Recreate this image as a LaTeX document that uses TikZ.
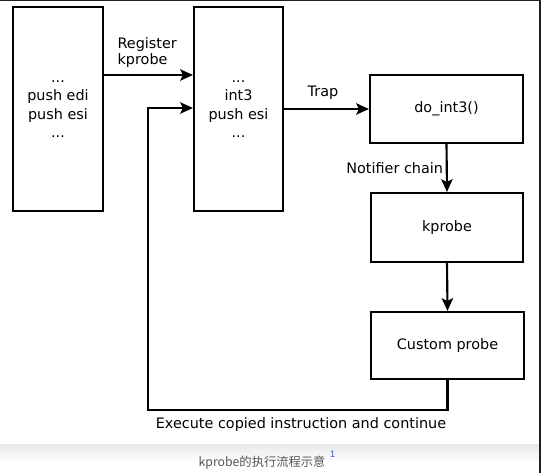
\documentclass[tikz,border=0pt]{standalone}
\usepackage{fontspec}
\setmainfont{DejaVu Sans}
\newfontfamily\cjk{Noto Sans CJK SC}
\usetikzlibrary{arrows.meta}
\definecolor{captiongray}{HTML}{555555}
\definecolor{notelink}{HTML}{3366CC}
\tikzset{
  codebox/.style={draw,line width=1.6pt,align=center,font=\fontsize{10.8pt}{13.8pt}\selectfont},
  flow/.style={line width=1.6pt,-{Stealth[length=9.5pt,width=8.5pt,inset=2pt]}},
  lbl/.style={font=\fontsize{10.8pt}{12pt}\selectfont,align=left,inner sep=1pt}
}
\begin{document}
\begin{tikzpicture}[x=0.75pt,y=-0.75pt]
    \useasboundingbox (0,0) rectangle (541,473);
    \fill[white] (0,0) rectangle (541,473);
    \shade[top color=black!9,bottom color=white] (0,444) rectangle (541,462);
    \fill[black!88] (0,0) rectangle (539,1.2);
    \fill[black!88] (538.8,0) rectangle (541,473);
    % code boxes
    \node[codebox,minimum width=67.5pt,minimum height=153pt] (orig) at (58,109) {...\\push edi\\push esi\\...};
    \node[codebox,minimum width=66.75pt,minimum height=153pt] (patched) at (238.5,109) {...\\int3\\push esi\\...};
    % handler chain
    \node[codebox,minimum width=114.75pt,minimum height=51pt] (doint) at (446.5,109) {do\_int3()};
    \node[codebox,minimum width=114pt,minimum height=51.75pt] (kp) at (447,227.5) {kprobe};
    \node[codebox,minimum width=114.75pt,minimum height=50.25pt] (custom) at (447.5,345.5) {Custom probe};
    \coordinate (reg) at (0,75);
    \coordinate (ret) at (0,108);
    \coordinate (back) at (148,410);
    \draw[flow] (orig.east |- reg) -- (patched.west |- reg);
    \node[lbl,anchor=west] (reglbl) at (116,53) {Register\\kprobe};
    \draw[flow] (patched.east |- doint.west) -- (doint.west);
    \node[lbl] (traplbl) at (323,93) {Trap};
    \draw[flow] (doint.south) -- node[lbl,left=1pt] (notelbl) {Notifier chain} (kp.north);
    \draw[flow] (kp.south) -- (custom.north);
    \draw[flow] (custom.south) |- (back) |- (patched.west |- ret);
    \node[lbl] (execlbl) at (301,425) {Execute copied instruction and continue};
    % caption
    \node[font=\cjk\fontsize{9.2pt}{11pt}\selectfont,text=captiongray,inner sep=0pt] (cap) at (262,463) {kprobe的执行流程示意};
    \node[font=\fontsize{6.5pt}{8pt}\selectfont,text=notelink,inner sep=0pt,anchor=south west] (capnote) at ([xshift=3pt,yshift=-1pt]cap.north east) {1};
\end{tikzpicture}
\end{document}
